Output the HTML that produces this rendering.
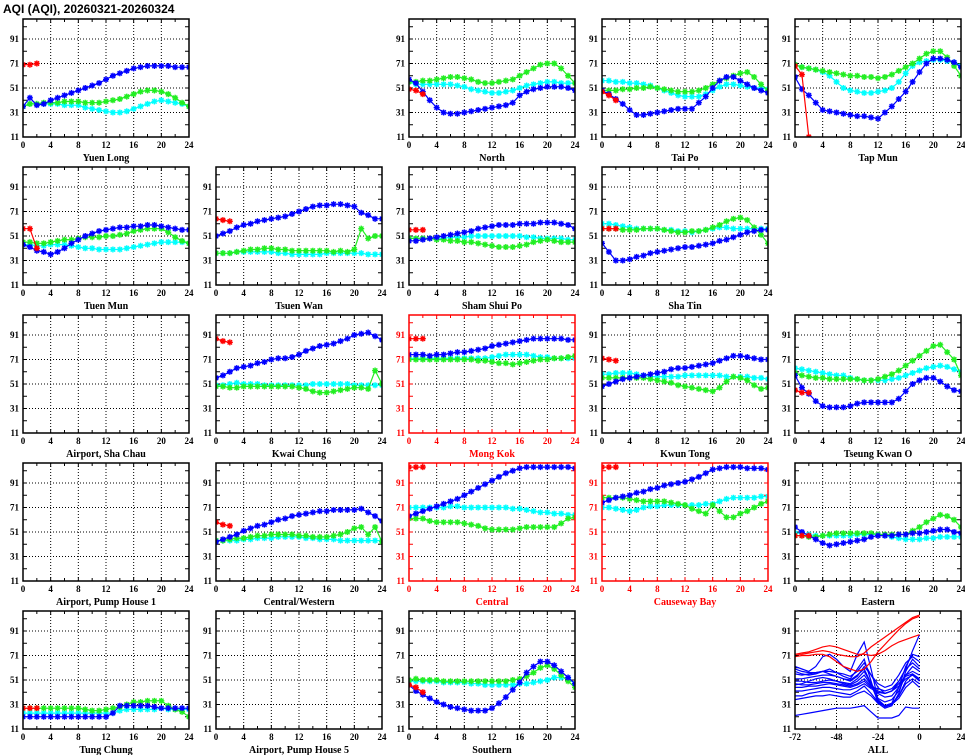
<!DOCTYPE html>
<html><head><meta charset="utf-8"><style>
html,body{margin:0;padding:0;background:#fff;}
svg{display:block;font-family:"Liberation Serif","DejaVu Serif",serif;font-weight:bold;}
</style></head><body>
<svg id="chart" width="965" height="755" viewBox="0 0 965 755" xmlns="http://www.w3.org/2000/svg">
<text x="3" y="13" font-size="12" font-family="Liberation Sans, sans-serif" font-weight="bold">AQI (AQI), 20260321-20260324</text>
</svg>
<script>
// ---- data ----
const hours = [0,1,2,3,4,5,6,7,8,9,10,11,12,13,14,15,16,17,18,19,20,21,22,23,24];
const yTicks = [11,31,51,71,91];
const xTicks = [0,4,8,12,16,20,24];
const stationNames = ["Yuen Long","North","Tai Po","Tap Mun","Tuen Mun","Tsuen Wan","Sham Shui Po","Sha Tin","Airport, Sha Chau","Kwai Chung","Mong Kok","Kwun Tong","Tseung Kwan O","Airport, Pump House 1","Central/Western","Central","Causeway Bay","Eastern","Tung Chung","Airport, Pump House 5","Southern"];
const stationCols = [0,2,3,4, 0,1,2,3, 0,1,2,3,4, 0,1,2,3,4, 0,1,2];
const stationRows = [0,0,0,0, 1,1,1,1, 2,2,2,2,2, 3,3,3,3,3, 4,4,4];
const roadside = ["Mong Kok","Central","Causeway Bay"];
const blueSeries = {
"Yuen Long":[36,43,37,38,41,43,45,47,49,51,53,55,58,61,63,65,67,68,69,69,69,69,68,68,68],
"North":[58,55,48,41,35,31,30,30,31,32,33,34,35,36,37,39,45,48,50,51,52,52,52,51,49],
"Tai Po":[49,46,42,38,33,29,29,30,31,32,33,34,34,34,39,44,51,57,60,60,57,54,51,49,47],
"Tap Mun":[60,50,45,39,33,32,31,30,29,28,28,27,26,31,36,42,48,56,64,71,75,75,74,72,68],
"Tuen Mun":[44,42,39,38,36,38,41,45,48,51,53,55,56,57,58,58,59,59,60,60,59,58,57,56,56],
"Tsuen Wan":[51,53,55,58,60,61,63,64,65,66,67,69,71,73,75,76,76,77,77,76,75,70,68,65,65],
"Sham Shui Po":[47,47,48,49,50,51,52,53,54,55,57,58,59,60,60,60,61,61,61,62,62,62,61,60,57],
"Sha Tin":[45,38,31,31,32,34,35,37,38,39,40,41,42,42,43,44,45,47,48,50,52,54,55,56,56],
"Kwai Chung":[56,58,61,64,65,66,68,69,71,72,72,73,75,78,80,82,83,84,86,88,91,92,93,90,87],
"Mong Kok":[75,75,75,74,75,75,76,77,77,78,79,80,82,83,84,85,86,87,88,88,88,88,88,87,87],
"Kwun Tong":[49,51,53,55,56,57,58,59,60,61,63,64,64,65,66,67,68,70,72,74,74,73,72,71,71],
"Tseung Kwan O":[58,48,43,37,33,32,32,32,33,35,36,36,36,36,36,39,45,51,54,56,56,53,49,46,45],
"Central/Western":[43,45,47,49,52,54,56,57,59,61,62,64,65,66,67,68,68,69,69,69,69,70,67,64,60],
"Central":[64,66,68,70,72,74,76,78,81,84,87,90,93,96,99,101,103,104,104,104,104,104,104,104,103],
"Causeway Bay":[75,77,79,80,81,83,84,86,87,89,90,91,92,94,96,99,102,103,104,104,104,103,103,103,102],
"Eastern":[55,51,48,45,42,40,41,42,43,44,45,47,48,48,48,49,49,50,50,51,52,53,53,51,50],
"Tung Chung":[21,21,21,21,21,21,21,21,21,21,21,21,21,24,30,30,30,30,30,29,28,28,28,28,28],
"Southern":[47,42,39,36,33,31,29,28,27,26,26,26,28,32,37,43,49,57,62,66,66,63,58,53,48]
};
const greenSeries = {
"Yuen Long":[36,38,38,39,39,39,40,40,40,39,39,39,40,41,42,44,46,48,49,49,48,46,43,39,36],
"North":[56,56,57,57,58,59,60,60,59,58,56,55,55,56,57,58,61,64,67,70,71,71,67,61,55],
"Tai Po":[49,49,49,50,50,51,51,52,51,50,49,48,48,48,49,51,54,57,59,61,63,64,60,54,49],
"Tap Mun":[70,68,67,66,65,64,63,62,61,61,60,60,59,60,62,65,68,71,75,79,81,81,76,69,61],
"Tuen Mun":[46,46,45,45,46,47,48,48,49,50,50,50,51,51,52,53,55,56,57,57,57,54,50,47,45],
"Tsuen Wan":[37,37,37,38,39,40,40,41,41,40,40,39,39,39,39,39,39,38,39,38,40,57,49,51,51],
"Sham Shui Po":[49,49,49,49,48,48,47,47,46,46,45,44,43,42,42,42,43,44,46,47,48,47,46,46,46],
"Sha Tin":[57,57,57,56,56,56,57,57,57,56,55,54,54,55,55,56,58,60,63,65,66,64,58,52,45],
"Kwai Chung":[49,49,48,48,49,49,49,49,49,49,49,49,48,47,45,44,44,45,46,47,48,48,47,62,51],
"Mong Kok":[71,71,71,71,71,71,71,71,71,71,70,70,69,68,68,67,68,69,70,71,71,72,72,73,74],
"Kwun Tong":[56,56,56,56,56,56,56,55,54,53,52,50,49,48,47,46,45,48,53,57,56,54,50,47,48],
"Tseung Kwan O":[60,58,57,56,56,55,55,55,55,55,54,54,55,57,59,62,66,70,74,78,82,83,77,71,58],
"Central/Western":[44,44,45,46,46,47,48,48,49,49,49,49,48,48,47,47,47,48,49,51,54,55,49,55,43],
"Central":[62,62,62,60,59,59,59,59,58,57,56,54,53,53,53,53,54,55,55,55,55,55,58,62,63],
"Causeway Bay":[79,79,79,79,78,77,76,76,76,76,75,74,73,70,68,66,73,68,63,63,66,68,71,74,76],
"Eastern":[48,48,47,47,48,49,50,50,50,50,50,50,49,49,49,49,49,52,55,59,62,65,64,61,55],
"Tung Chung":[28,28,28,28,28,28,28,28,28,27,26,26,27,28,29,31,33,33,34,34,34,30,27,25,21],
"Southern":[51,52,51,51,51,50,50,50,50,50,50,50,50,50,50,51,52,54,57,61,63,60,55,50,45]
};
const cyanSeries = {
"Yuen Long":[36,38,38,38,38,38,37,37,37,35,34,33,32,31,31,32,34,36,38,40,41,40,39,38,36],
"North":[56,54,54,54,54,54,54,53,52,50,49,48,47,47,48,49,51,53,54,55,56,56,55,55,55],
"Tai Po":[57,57,56,56,55,55,54,53,51,49,47,45,44,44,44,46,49,52,54,54,53,52,51,51,50],
"Tap Mun":[70,68,67,66,64,61,56,51,49,48,47,47,48,49,51,56,63,69,72,73,74,74,73,72,69],
"Tuen Mun":[44,44,43,43,44,44,44,43,42,41,41,40,40,40,40,41,42,43,44,45,46,46,46,46,45],
"Tsuen Wan":[37,37,37,38,38,38,38,38,38,37,37,36,36,36,36,36,37,37,37,37,37,37,36,36,36],
"Sham Shui Po":[49,49,49,49,49,49,50,50,50,51,51,51,51,51,51,51,51,50,50,49,49,49,49,48,48],
"Sha Tin":[61,61,60,59,58,57,57,57,57,56,56,55,55,54,55,56,57,58,58,57,57,57,57,57,57],
"Kwai Chung":[50,50,51,52,51,51,51,50,50,50,50,50,50,50,51,51,51,51,51,51,50,50,50,50,50],
"Mong Kok":[72,72,72,72,72,72,72,72,72,72,72,72,73,74,75,75,75,75,74,73,73,72,72,72,72],
"Kwun Tong":[59,59,60,60,60,59,58,57,57,57,57,57,58,58,58,58,58,58,57,57,57,57,56,56,55],
"Tseung Kwan O":[64,63,62,61,60,59,58,58,56,55,54,54,54,54,55,56,58,60,62,64,65,66,65,63,61],
"Central/Western":[44,44,44,44,45,45,46,46,46,47,47,47,47,46,46,45,45,45,44,44,44,44,44,44,44],
"Central":[71,71,71,71,71,71,72,72,71,71,71,71,71,71,71,70,70,69,68,67,67,66,66,65,65],
"Causeway Bay":[71,71,70,69,68,69,71,72,72,73,73,73,73,73,73,74,74,76,78,79,79,79,79,80,80],
"Eastern":[50,50,49,48,48,48,48,48,48,49,49,49,49,48,47,46,45,45,45,46,46,47,47,47,47],
"Tung Chung":[24,24,24,24,24,24,24,24,24,24,24,24,24,24,26,27,27,27,27,27,28,27,27,27,27],
"Southern":[50,50,50,50,50,49,49,49,49,48,48,47,47,47,47,47,48,48,49,50,51,53,53,52,48]
};
const redSeries = {
"Yuen Long":[70,70,71],"North":[50,49,46],"Tai Po":[48,45,41],"Tap Mun":[69,62,11],
"Tuen Mun":[57,57,41],"Tsuen Wan":[65,64,63],"Sham Shui Po":[56,56,56],"Sha Tin":[57,57,57],
"Kwai Chung":[88,86,85],"Mong Kok":[88,88,88],"Kwun Tong":[72,71,70],"Tseung Kwan O":[46,44,44],
"Central/Western":[59,57,56],"Central":[104,104,104],"Causeway Bay":[104,104,104],"Eastern":[48,48,48],
"Tung Chung":[28,28,28],"Southern":[47,45,41]
};
// ALL panel: hours -72..0 step 4
const allHours = [-72,-68,-64,-60,-56,-52,-48,-44,-40,-36,-32,-28,-24,-20,-16,-12,-8,-4,0];
const allXTicks = [-72,-48,-24,0,24];
const allRed = [
[72,72,73,74,75,74,72,71,70,70,73,78,82,86,90,94,98,102,104],
[70,71,71,72,72,70,66,62,60,58,60,66,74,80,86,92,97,101,103],
[72,73,74,76,78,79,78,76,74,72,72,71,72,75,79,82,84,86,88]
];
const allBlue = [
[62,60,58,62,70,72,68,62,58,72,82,60,35,30,32,45,62,72,70],
[58,56,55,56,58,60,57,54,52,60,68,50,32,28,30,40,58,68,62],
[52,52,53,54,55,55,54,52,51,55,60,48,36,33,35,42,55,62,58],
[50,50,49,49,50,51,50,49,48,52,58,48,40,37,38,45,55,58,55],
[48,47,47,48,49,49,48,47,46,48,52,46,42,40,42,48,54,56,52],
[45,45,46,46,47,48,47,46,45,47,50,45,44,42,44,50,60,75,88],
[42,42,43,44,45,45,44,43,43,45,48,44,41,40,42,46,52,55,50],
[56,55,56,57,58,58,57,56,54,58,65,55,45,40,42,50,60,65,60],
[38,38,40,41,42,42,41,40,39,42,46,40,33,30,32,38,48,52,48],
[35,36,37,38,38,39,38,37,37,40,42,38,32,30,31,36,45,50,45],
[22,23,24,25,26,27,28,28,28,29,30,25,20,20,20,22,29,28,28],
[60,58,57,57,58,56,54,52,50,54,62,55,48,45,47,55,65,70,66],
[47,48,50,52,53,52,50,48,47,50,55,47,34,29,31,38,50,56,51]
];

// ---- layout ----
const svg = document.getElementById('chart');
const NS = 'http://www.w3.org/2000/svg';
const COL0 = 23, COLSTEP = 193, PW = 166, ROW0BOT = 137, ROWSTEP = 148, PH = 118;
const YMIN = 11, YPX = 1.225;
function mk(tag, attrs, parent){ const e=document.createElementNS(NS,tag); for(const k in attrs) e.setAttribute(k,attrs[k]); (parent||svg).appendChild(e); return e; }
function slug(s){ return s.toLowerCase().replace(/[^a-z0-9]+/g,'-').replace(/^-|-$/g,''); }
let clipId = 0;

function panel(name, col, row, xmin, xmax, xt, red){
  const x0 = COL0 + col*COLSTEP, bot = ROW0BOT + row*ROWSTEP, top = bot - PH;
  const sx = v => x0 + (v - xmin) / (xmax - xmin) * PW;
  const sy = v => bot - (v - YMIN) * YPX;
  const g = mk('g', {});
  
  
  const fc = red ? '#ff0000' : '#000';
  yTicks.slice(1).forEach(t => { if (sy(t) > top) { const l = mk('line',{x1:x0,x2:x0+PW,y1:sy(t),y2:sy(t),stroke:'#000','stroke-width':1,'stroke-dasharray':'1,2'},g);
      }});
  xt.slice(1,-1).forEach(t => { const l = mk('line',{x1:sx(t),x2:sx(t),y1:top,y2:bot,stroke:'#000','stroke-width':1,'stroke-dasharray':'1,2'},g);
      });
  for (let v = 21; v < 108; v += 10) { const y = sy(v);
    mk('line',{x1:x0,x2:x0+4,y1:y,y2:y,stroke:fc},g); mk('line',{x1:x0+PW-4,x2:x0+PW,y1:y,y2:y,stroke:fc},g); }
  for (let i = 0; i < xt.length; i++) { const x = sx(xt[i]);
    mk('line',{x1:x,x2:x,y1:bot,y2:bot-4,stroke:fc},g); mk('line',{x1:x,x2:x,y1:top,y2:top+4,stroke:fc},g);
    if (i < xt.length-1) { const xm = sx((xt[i]+xt[i+1])/2);
      mk('line',{x1:xm,x2:xm,y1:bot,y2:bot-3,stroke:fc},g); mk('line',{x1:xm,x2:xm,y1:top,y2:top+3,stroke:fc},g); } }
  yTicks.forEach(t => { const tx = mk('text',{x:x0-4,y:sy(t)+3,'font-size':9,'text-anchor':'end',fill:fc},g); tx.textContent=t;
      });
  xt.forEach(t => { const tx = mk('text',{x:sx(t),y:bot+11,'font-size':9,'text-anchor':'middle',fill:fc},g); tx.textContent=t;
      });
  const nm = mk('text',{x:x0+PW/2,y:bot+24,'font-size':10,'text-anchor':'middle',fill:fc},g); nm.textContent = name;
   
  const cid = 'c' + (clipId++);
  const cp = mk('clipPath',{id:cid},g); mk('rect',{x:x0,y:top,width:PW,height:PH},cp);
  const dg = mk('g',{'clip-path':'url(#'+cid+')'},g);
  const fr = mk('rect',{x:x0,y:top,width:PW,height:PH,fill:'none',stroke:fc,'stroke-width':1.5},g);
   
  return {sx, sy, dg};
}
function star(parent, x, y, c){
  const r = 3, d = 'M'+(x-r)+' '+y+'H'+(x+r)+'M'+x+' '+(y-r)+'V'+(y+r)+'M'+(x-2.2)+' '+(y-2.2)+'L'+(x+2.2)+' '+(y+2.2)+'M'+(x-2.2)+' '+(y+2.2)+'L'+(x+2.2)+' '+(y-2.2);
  mk('path',{d:d,stroke:c,'stroke-width':1.4,fill:'none'},parent);
}
function series(p, xs, ys, color, label, markers){
  const g = mk('g',{},p.dg);
  
  
  const pts = ys.map((v,i)=>p.sx(xs[i]).toFixed(1)+','+p.sy(v).toFixed(1)).join(' ');
  mk('polyline',{points:pts,fill:'none',stroke:color,'stroke-width':1.2},g);
  if (markers) ys.forEach((v,i)=>star(g,p.sx(xs[i]),p.sy(v),color));
}

stationNames.forEach((name, i) => {
  const red = roadside.includes(name);
  const p = panel(name, stationCols[i], stationRows[i], 0, 24, xTicks, red);
  if (cyanSeries[name]) series(p, hours, cyanSeries[name], '#00ffff', 'series-cyan', true);
  if (greenSeries[name]) series(p, hours, greenSeries[name], '#22ee22', 'series-green', true);
  if (blueSeries[name]) series(p, hours, blueSeries[name], '#0000ff', 'series-blue', true);
  if (redSeries[name]) series(p, hours.slice(0,3), redSeries[name], '#ff0000', 'series-red', true);
});
const pa = panel('ALL', 4, 4, -72, 24, allXTicks, false);
allBlue.forEach(s => series(pa, allHours, s, '#0000ff', 'all-series-blue', false));
allRed.forEach(s => series(pa, allHours, s, '#ff0000', 'all-series-red', false));
</script>
</body></html>
